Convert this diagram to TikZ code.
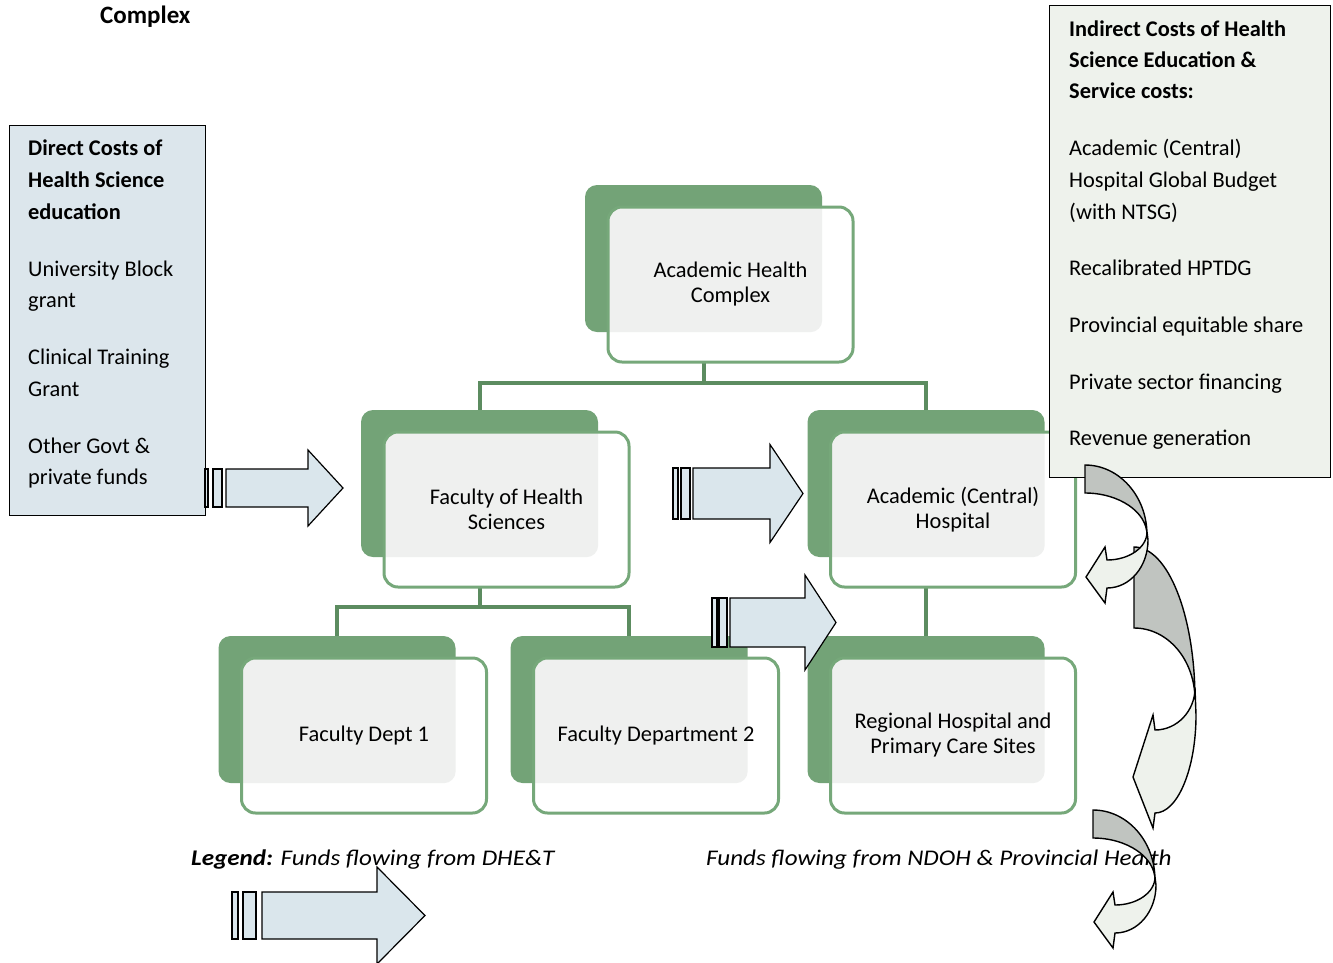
\documentclass[tikz,border=0pt]{standalone}
\usepackage{fontspec}
\setmainfont{Carlito}
\newfontfamily\widefont{Carlito}[FakeStretch=1.12]
\usetikzlibrary{backgrounds}

\definecolor{boxgreen}{RGB}{115,163,119}
\definecolor{edgegreen}{RGB}{118,168,122}
\definecolor{linegreen}{RGB}{92,140,96}
\definecolor{texgray}{RGB}{239,240,239}
\definecolor{directfill}{RGB}{220,230,236}
\definecolor{indirectfill}{RGB}{238,242,236}
\definecolor{flowblue}{RGB}{218,230,236}
\definecolor{curvegray}{RGB}{192,196,192}
\definecolor{curvelight}{RGB}{238,242,236}

% one organisational unit: shaded back card plus framed front card with the label
\newcommand\orgunit[4]{%
  \node[backbox] (#1B) at (#2,#3) {};
  \node[frontbox, path picture={\fill[texgray, rounded corners=12pt] (#1B.north west) rectangle (#1B.south east);}]
    (#1) at ({#2+27},{#3+26}) {#4};
}

% curved return arrow (small size), drawn relative to the current shift
\newcommand\curvedsmall{%
  \path[curveline, fill=curvegray] (1085,465) .. controls (1119,465) and (1147,496) .. (1147,535)
    .. controls (1147,512) and (1119,493) .. (1085,493) -- cycle;
  \path[curveline, fill=curvelight] (1147,532) .. controls (1147,547.5) and (1129,560) .. (1107,560)
    -- (1105,547) -- (1086,577) -- (1105,603) -- (1107,588)
    .. controls (1130,588) and (1148,566.5) .. (1148,540) -- cycle;
}

\newcommand\bodysize{\fontsize{22.4}{25}\selectfont}

\begin{document}
\begin{tikzpicture}[x=1pt,y=-1pt,
  txt/.style={font=\bodysize},
  backbox/.style={fill=boxgreen, rounded corners=12pt, minimum width=237pt, minimum height=147pt, inner sep=0pt},
  frontbox/.style={fill=white, draw=edgegreen, line width=3pt, rounded corners=14pt,
    minimum width=245pt, minimum height=155pt, align=center, txt, inner sep=0pt},
  conn/.style={draw=linegreen, line width=4pt},
  panel/.style={draw=black, line width=1.4pt, inner sep=0pt, anchor=north west},
  line/.style={anchor=base west, inner sep=0pt, txt},
  headline/.style={anchor=base west, inner sep=0pt, font=\bodysize\bfseries},
  legendline/.style={anchor=base west, inner sep=0pt, font=\widefont\bodysize\itshape},
  flow/.style={draw=black, line width=1.2pt, fill=flowblue, line join=miter},
  curveline/.style={draw=black, line width=1.4pt, line join=miter},
]
\useasboundingbox (0,0) rectangle (1333,962);

\node[anchor=base west, inner sep=0pt, font=\fontsize{25}{28}\selectfont\bfseries] (title) at (100,23) {Complex};

% organisation chart
\orgunit{ahc}{703.5}{258.5}{Academic Health\\Complex}
\orgunit{fhs}{479.5}{483.5}{Faculty of Health\\Sciences}
\orgunit{ach}{926}{483.5}{Academic (Central)\\Hospital}
\orgunit{dOne}{337}{709.5}{Faculty Dept 1}
\orgunit{dTwo}{629}{709.5}{Faculty Department 2}
\orgunit{rh}{926}{709.5}{Regional Hospital and\\Primary Care Sites}

\begin{pgfonlayer}{background}
  \draw[conn] (ahcB.south) -- ++(0,51) -| (fhsB.north);
  \draw[conn] (ahcB.south) -- ++(0,51) -| (achB.north);
  \draw[conn] (fhsB.south) -- ++(0,50) -| (dOneB.north);
  \draw[conn] (fhsB.south) -- ++(0,50) -| (dTwoB.north);
  \draw[conn] (achB.south) -- (rhB.north);
\end{pgfonlayer}

% direct costs panel
\node[panel, fill=directfill, minimum width=196pt, minimum height=390pt] (direct) at (9,125) {};
\foreach \yy/\tt in {155/Direct Costs of, 187/Health Science, 219/education}
  \node[headline] (dh\yy) at (28,\yy) {\tt};
\foreach \yy/\tt in {276/University Block, 307/grant, 364/Clinical Training, 396/Grant,
    453/Other Govt \&, 484/private funds}
  \node[line] (dl\yy) at (28,\yy) {\tt};

% indirect costs panel
\node[panel, fill=indirectfill, minimum width=281pt, minimum height=472pt] (indirect) at (1049,5) {};
\foreach \yy/\tt in {36/Indirect Costs of Health, 67/Science Education \&, 98/Service costs:}
  \node[headline] (ih\yy) at (1069,\yy) {\tt};
\foreach \yy/\tt in {155/Academic (Central), 187/Hospital Global Budget, 219/(with NTSG),
    275/Recalibrated HPTDG, 332/Provincial equitable share, 389/Private sector financing,
    445/Revenue generation}
  \node[line] (il\yy) at (1069,\yy) {\tt};

% striped block arrows: stripes, body start, head base, tip, mid y, shaft and head half heights
\foreach \a/\b/\c/\d/\e/\f/\g/\m/\s/\h in {
    205/208/213/222/226/308/343/488/19/38,
    673/678/681/690/693/770/803/493.5/25.5/49,
    712/717/719/727/730/805/836/622.5/24.5/47.5,
    232/238/243/256/262/377/425/915.5/23.5/48.5}{
  \draw[flow] (\a,{\m-\s}) rectangle (\b,{\m+\s});
  \draw[flow] (\c,{\m-\s}) rectangle (\d,{\m+\s});
  \draw[flow] (\e,{\m-\s}) -- (\f,{\m-\s}) -- (\f,{\m-\h}) -- (\g,\m)
    -- (\f,{\m+\h}) -- (\f,{\m+\s}) -- (\e,{\m+\s}) -- cycle;
}

% legend
\node[legendline] (legend) at (191,865) {\textbf{Legend:} Funds flowing from DHE\&T};
\node[legendline] (legendtwo) at (706,865) {Funds flowing from NDOH \& Provincial Health};

% curved arrows on the right
\path[curveline, fill=curvegray] (1134,547) .. controls (1168,547) and (1195,615.5) .. (1195,700)
  .. controls (1195,660) and (1168,628) .. (1134,628) -- cycle;
\path[curveline, fill=curvelight] (1195,688) .. controls (1195,711) and (1177,730) .. (1155,730)
  -- (1153,715) -- (1133,777) -- (1153,828) -- (1155,813)
  .. controls (1177.6,813) and (1196,769) .. (1196,715) -- cycle;
\curvedsmall
\begin{scope}[shift={(8,345)}]
  \curvedsmall
\end{scope}
\end{tikzpicture}
\end{document}
